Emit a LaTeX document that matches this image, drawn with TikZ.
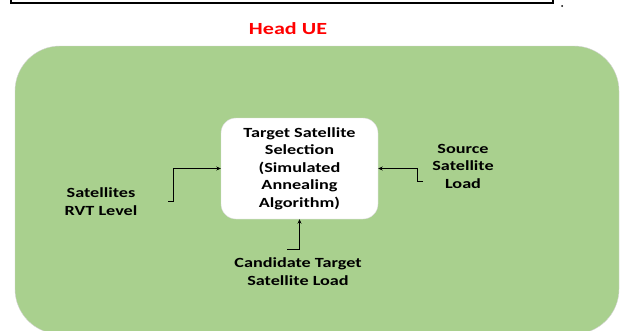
\documentclass[tikz,border=0pt]{standalone}
\usepackage{fontspec}
\setmainfont{Carlito}[FakeStretch=1.3]
\usetikzlibrary{arrows.meta}
\definecolor{grn}{RGB}{169,208,142}
\begin{document}
\begin{tikzpicture}[x=1pt,y=-1pt,
  lbl/.style={font=\fontsize{14}{17.5}\selectfont\bfseries, align=center, inner sep=0pt},
  conn/.style={line width=1pt, -{Stealth[length=4.5pt,width=4pt]}}]
\useasboundingbox (0,0) rectangle (623,330);
\begin{scope}
\clip (0,0) rectangle (623,330);
\draw[line width=1.5pt] (11,-10) rectangle (553,3);
\fill (562,6) circle (1pt);
\draw[fill=grn, draw=gray!35, rounded corners=45pt] (15,46) rectangle (619,334);
\end{scope}
\node[lbl, text=red, font=\fontsize{17}{20}\selectfont\bfseries] (head) at (288,29) {Head UE};
\node[lbl, fill=white, draw=gray!30, rounded corners=15pt, minimum width=157pt, minimum height=101pt] (sel) at (299.5,168.5) {Target Satellite\\Selection\\(Simulated\\Annealing\\Algorithm)};
\node[lbl] (sat) at (101,201.5) {Satellites\\RVT Level};
\node[lbl] (src) at (463,166) {Source\\Satellite\\Load};
\node[lbl] (cand) at (298,271.5) {Candidate Target\\Satellite Load};
\coordinate (a1) at (168,201);
\coordinate (a2) at (423,181);
\coordinate (a3) at (287,249);
\draw[conn] (a1) -- ++(5,0) |- (sel.west);
\draw[conn] (a2) -- ++(-6,0) |- (sel.east);
\draw[conn] (a3) -| (sel.south);
\end{tikzpicture}
\end{document}
